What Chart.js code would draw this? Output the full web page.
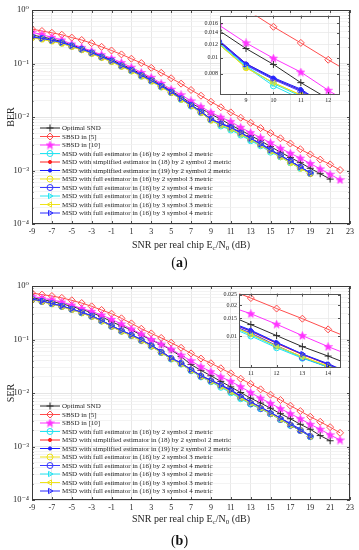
<!DOCTYPE html>
<html>
<head>
<meta charset="utf-8">
<script src="https://cdn.jsdelivr.net/npm/chart.js@4.4.1/dist/chart.umd.min.js"></script>
<style>
    body { margin: 0; background: #fff; width: 359px; height: 550px; position: relative; overflow: hidden; font-family: "Liberation Serif", serif; }
    .box { position: absolute; }
    .cap { position: absolute; left: 0; width: 359px; text-align: center; font-size: 14px; line-height: 14px; color: #111; }
</style>
</head>
<body>
<div class="box" style="left:0;top:0"><canvas id="berChart" width="359" height="258"></canvas></div>
<div class="box" style="left:195px;top:10px"><canvas id="berZoom" width="150" height="97"></canvas></div>
<div class="cap" style="top:256px">(<b>a</b>)</div>
<div class="box" style="left:0;top:276px"><canvas id="serChart" width="359" height="258"></canvas></div>
<div class="box" style="left:210px;top:288px"><canvas id="serZoom" width="136" height="92"></canvas></div>
<div class="cap" style="top:534px">(<b>b</b>)</div>

<script>
// SNR per real chip (dB)
const snr = [-9, -8, -7, -6, -5, -4, -3, -2, -1, 0, 1, 2, 3, 4, 5, 6, 7, 8, 9, 10, 11, 12, 13, 14, 15, 16, 17, 18, 19, 20, 21, 22];
const snrTicks = [-9, -7, -5, -3, -1, 1, 3, 5, 7, 9, 11, 13, 15, 17, 19, 21, 23];
const yMajorTicks = [1e-4, 1e-3, 1e-2, 1e-1, 1];
const yTickLabels = ['10⁻⁴', '10⁻³', '10⁻²', '10⁻¹', '10⁰'];

const legendLabels = [
    'Optimal SND',
    'SBSD in [5]',
    'SBSD in [10]',
    'MSD with full estimator in (16) by 2 symbol 2 metric',
    'MSD with simplified estimator in (18) by 2 symbol 2 metric',
    'MSD with simplified estimator in (19) by 2 symbol 2 metric',
    'MSD with full estimator in (16) by 2 symbol 3 metric',
    'MSD with full estimator in (16) by 2 symbol 4 metric',
    'MSD with full estimator in (16) by 3 symbol 2 metric',
    'MSD with full estimator in (16) by 3 symbol 3 metric',
    'MSD with full estimator in (16) by 3 symbol 4 metric'
];

// (a) BER
const berOptimal = [0.34, 0.315, 0.287, 0.258, 0.222, 0.193, 0.165, 0.139, 0.118, 0.097, 0.079, 0.064, 0.052, 0.040, 0.031, 0.0238, 0.0182, 0.0145, 0.0113, 0.0091, 0.0071, 0.0057, 0.0045, 0.0036, 0.0028, 0.0022, 0.00175, 0.0014, 0.0011, 0.00087, 0.00069];
const berSbsd5 = [0.44, 0.405, 0.375, 0.345, 0.305, 0.275, 0.24, 0.205, 0.175, 0.148, 0.123, 0.102, 0.083, 0.067, 0.053, 0.042, 0.032, 0.025, 0.0193, 0.0152, 0.0122, 0.0097, 0.0078, 0.0062, 0.0050, 0.0040, 0.0032, 0.0025, 0.0020, 0.0016, 0.0013, 0.00102];
const berSbsd10 = [0.383, 0.346, 0.308, 0.275, 0.231, 0.200, 0.171, 0.146, 0.125, 0.104, 0.085, 0.068, 0.055, 0.0425, 0.033, 0.026, 0.020, 0.0156, 0.0122, 0.0099, 0.0082, 0.0064, 0.0051, 0.0041, 0.0033, 0.0026, 0.0021, 0.0017, 0.00135, 0.00107, 0.00085, 0.00067];
const berMsdFull2s2m = [0.312, 0.292, 0.268, 0.243, 0.212, 0.184, 0.156, 0.131, 0.110, 0.089, 0.073, 0.058, 0.047, 0.0365, 0.0285, 0.0213, 0.016, 0.012, 0.0088, 0.0068, 0.0057, 0.0046, 0.0036, 0.0029, 0.0022, 0.0018, 0.0014, 0.0011, 0.00089];
const berMsdSimp18 = [0.315, 0.295, 0.272, 0.247, 0.215, 0.187, 0.159, 0.134, 0.113, 0.092, 0.0756, 0.060, 0.049, 0.038, 0.0297, 0.0223, 0.0168, 0.0126, 0.0092, 0.0075, 0.0064, 0.0051, 0.0040, 0.0031, 0.0024, 0.0019, 0.0015, 0.00116, 0.0009];
const berMsdSimp19 = [0.316, 0.296, 0.273, 0.248, 0.216, 0.188, 0.160, 0.135, 0.114, 0.093, 0.076, 0.061, 0.049, 0.0385, 0.030, 0.0225, 0.017, 0.0127, 0.0092, 0.0076, 0.0065, 0.0051, 0.0040, 0.0032, 0.0025, 0.0019, 0.0015, 0.00117, 0.00091];
const berMsdFull2s3m = [0.305, 0.285, 0.262, 0.238, 0.207, 0.180, 0.153, 0.129, 0.108, 0.088, 0.072, 0.058, 0.047, 0.0365, 0.0285, 0.0214, 0.0162, 0.0121, 0.0087, 0.0071, 0.006, 0.0048, 0.0038, 0.003, 0.0023, 0.0018, 0.0014, 0.0011, 0.00087];
const berMsdFull2s4m = [0.313, 0.293, 0.27, 0.245, 0.213, 0.185, 0.158, 0.133, 0.112, 0.091, 0.075, 0.06, 0.048, 0.0375, 0.0292, 0.022, 0.0166, 0.0124, 0.009, 0.0074, 0.0063, 0.005, 0.0039, 0.0031, 0.0024, 0.0019, 0.0015, 0.00115, 0.00089];
const berMsdFull3s2m = [0.31, 0.29, 0.267, 0.242, 0.211, 0.183, 0.156, 0.131, 0.11, 0.09, 0.073, 0.059, 0.047, 0.037, 0.0288, 0.0216, 0.0163, 0.0122, 0.0089, 0.007, 0.0059, 0.0047, 0.0037, 0.003, 0.0023, 0.0018, 0.0014, 0.0011, 0.00088];
const berMsdFull3s3m = [0.303, 0.283, 0.26, 0.236, 0.206, 0.179, 0.152, 0.128, 0.107, 0.088, 0.072, 0.058, 0.046, 0.036, 0.0283, 0.0212, 0.016, 0.012, 0.0087, 0.0071, 0.006, 0.0048, 0.0038, 0.003, 0.0023, 0.0018, 0.0014, 0.0011, 0.00087];
const berMsdFull3s4m = [0.314, 0.294, 0.271, 0.246, 0.214, 0.186, 0.158, 0.133, 0.112, 0.091, 0.075, 0.06, 0.048, 0.0378, 0.0294, 0.0221, 0.0167, 0.0125, 0.0091, 0.0075, 0.0064, 0.0051, 0.004, 0.0031, 0.0024, 0.0019, 0.0015, 0.00116, 0.0009];

// (b) SER
const serOptimal = [0.60, 0.56, 0.515, 0.465, 0.415, 0.365, 0.318, 0.267, 0.215, 0.179, 0.151, 0.121, 0.098, 0.081, 0.064, 0.048, 0.034, 0.0265, 0.021, 0.0165, 0.013, 0.0102, 0.008, 0.0065, 0.0052, 0.0041, 0.0033, 0.0026, 0.0021, 0.0016, 0.00128];
const serSbsd5 = [0.74, 0.69, 0.65, 0.60, 0.54, 0.48, 0.417, 0.356, 0.304, 0.249, 0.200, 0.159, 0.130, 0.107, 0.087, 0.070, 0.055, 0.044, 0.036, 0.029, 0.0233, 0.0185, 0.0148, 0.0117, 0.0093, 0.0074, 0.0058, 0.0046, 0.0036, 0.0029, 0.0023, 0.0018];
const serSbsd10 = [0.64, 0.59, 0.55, 0.50, 0.44, 0.38, 0.336, 0.287, 0.238, 0.195, 0.157, 0.127, 0.100, 0.082, 0.066, 0.051, 0.040, 0.031, 0.025, 0.020, 0.0165, 0.0131, 0.0102, 0.0080, 0.0064, 0.0051, 0.0041, 0.0033, 0.0026, 0.0021, 0.00165, 0.00132];
const serMsdFull2s2m = [0.56, 0.515, 0.466, 0.416, 0.366, 0.316, 0.271, 0.222, 0.176, 0.143, 0.118, 0.096, 0.075, 0.057, 0.043, 0.0347, 0.026, 0.02, 0.0162, 0.0128, 0.0101, 0.0078, 0.0062, 0.0051, 0.0041, 0.0032, 0.0025, 0.002, 0.00152];
const serMsdSimp18 = [0.567, 0.522, 0.472, 0.422, 0.372, 0.322, 0.277, 0.227, 0.18, 0.147, 0.122, 0.099, 0.078, 0.06, 0.045, 0.0362, 0.0273, 0.021, 0.0172, 0.0141, 0.0112, 0.0086, 0.0067, 0.0054, 0.0043, 0.0034, 0.0026, 0.002, 0.00156];
const serMsdSimp19 = [0.568, 0.523, 0.473, 0.423, 0.373, 0.323, 0.278, 0.228, 0.181, 0.148, 0.123, 0.1, 0.078, 0.06, 0.0452, 0.0365, 0.0275, 0.0212, 0.0174, 0.0143, 0.0115, 0.0088, 0.0068, 0.0055, 0.0043, 0.0034, 0.0027, 0.0021, 0.00158];
const serMsdFull2s3m = [0.555, 0.51, 0.462, 0.412, 0.362, 0.313, 0.268, 0.22, 0.175, 0.142, 0.118, 0.095, 0.075, 0.057, 0.0435, 0.035, 0.0265, 0.0204, 0.0166, 0.0134, 0.0106, 0.0081, 0.0064, 0.0052, 0.0041, 0.0032, 0.0025, 0.002, 0.00153];
const serMsdFull2s4m = [0.563, 0.518, 0.469, 0.419, 0.369, 0.319, 0.274, 0.224, 0.178, 0.145, 0.12, 0.097, 0.076, 0.058, 0.0442, 0.0356, 0.0268, 0.0206, 0.0168, 0.0137, 0.0108, 0.0082, 0.0063, 0.0051, 0.0041, 0.0032, 0.0025, 0.002, 0.00154];
const serMsdFull3s2m = [0.558, 0.513, 0.464, 0.414, 0.364, 0.315, 0.27, 0.221, 0.176, 0.143, 0.119, 0.096, 0.075, 0.057, 0.0437, 0.0352, 0.0265, 0.0204, 0.0165, 0.0132, 0.0104, 0.008, 0.0063, 0.0051, 0.0041, 0.0032, 0.0025, 0.002, 0.00153];
const serMsdFull3s3m = [0.553, 0.508, 0.46, 0.41, 0.36, 0.312, 0.267, 0.219, 0.174, 0.141, 0.117, 0.095, 0.074, 0.057, 0.0433, 0.0348, 0.0264, 0.0203, 0.0165, 0.0133, 0.0105, 0.0081, 0.0064, 0.0052, 0.0041, 0.0032, 0.0025, 0.002, 0.00153];
const serMsdFull3s4m = [0.566, 0.521, 0.471, 0.421, 0.371, 0.321, 0.276, 0.226, 0.18, 0.147, 0.122, 0.099, 0.078, 0.059, 0.0448, 0.0361, 0.0272, 0.0209, 0.0171, 0.014, 0.0113, 0.0087, 0.0068, 0.0054, 0.0043, 0.0034, 0.0026, 0.002, 0.00156];

// zoomed insets
const berZoomX = [9, 10, 11, 12];
const berZoomY = [0.008, 0.01, 0.012, 0.014, 0.016];
const berZoomYLabels = ['0.008', '0.01', '0.012', '0.014', '0.016'];
const serZoomX = [11, 12, 13, 14];
const serZoomY = [0.01, 0.015, 0.02, 0.025];
const serZoomYLabels = ['0.01', '0.015', '0.02', '0.025'];

const berValues = [berOptimal, berSbsd5, berSbsd10, berMsdFull2s2m, berMsdSimp18, berMsdSimp19, berMsdFull2s3m, berMsdFull2s4m, berMsdFull3s2m, berMsdFull3s3m, berMsdFull3s4m];
const serValues = [serOptimal, serSbsd5, serSbsd10, serMsdFull2s2m, serMsdSimp18, serMsdSimp19, serMsdFull2s3m, serMsdFull2s4m, serMsdFull3s2m, serMsdFull3s3m, serMsdFull3s4m];

const lineStyles = [
    { color: '#2b2b2b', point: 'cross', r: 3.5 },
    { color: '#ff4d4d', point: 'rectRot', r: 3.5 },
    { color: '#ff33ff', point: 'star', r: 4 },
    { color: '#22e4f2', point: 'circle', r: 3 },
    { color: '#ff2020', point: 'circle', r: 1.6, fill: true },
    { color: '#1a1aff', point: 'circle', r: 1.6, fill: true },
    { color: '#eee21a', point: 'circle', r: 3 },
    { color: '#3a3aff', point: 'circle', r: 3 },
    { color: '#22e4f2', point: 'triangle', r: 3, rot: 90 },
    { color: '#eee21a', point: 'triangle', r: 3, rot: -90 },
    { color: '#2a2aff', point: 'triangle', r: 3, rot: 90 }
];

const textColor = '#262626';
const serif = '"Liberation Serif", "DejaVu Serif", serif';

function makeStar(color) {
    const c = document.createElement('canvas');
    c.width = 9;
    c.height = 9;
    const g = c.getContext('2d');
    g.beginPath();
    for (let k = 0; k < 10; k++) {
        const r = k % 2 ? 1.8 : 4.3;
        const ang = -Math.PI / 2 + k * Math.PI / 5;
        g.lineTo(4.5 + r * Math.cos(ang), 4.8 + r * Math.sin(ang));
    }
    g.closePath();
    g.fillStyle = color;
    g.fill();
    g.strokeStyle = color;
    g.lineWidth = 0.6;
    g.stroke();
    return c;
}
const starImg = makeStar('#ff33ff');

function buildSets(values) {
    return values.map((vals, i) => {
        const s = lineStyles[i];
        return {
            label: legendLabels[i],
            data: vals.map((v, k) => ({ x: snr[k], y: v })),
            borderColor: s.color,
            borderWidth: 1,
            pointStyle: s.point === 'star' ? starImg : s.point,
            pointRadius: s.r,
            pointRotation: s.rot || 0,
            pointBorderColor: s.color,
            pointBorderWidth: 1,
            pointBackgroundColor: s.fill ? s.color : 'rgba(255,255,255,0)',
            order: values.length - i,
            tension: 0,
            clip: 0
        };
    });
}

function drawXTitle(ctx, cx, baseline) {
    const parts = [['SNR per real chip E', false], ['c', true], ['/N', false], ['0', true], [' (dB)', false]];
    const big = '10px ' + serif;
    const small = '7px ' + serif;
    let w = 0;
    parts.forEach(p => {
        ctx.font = p[1] ? small : big;
        w += ctx.measureText(p[0]).width;
    });
    let x = cx - w / 2;
    ctx.textAlign = 'left';
    ctx.textBaseline = 'alphabetic';
    parts.forEach(p => {
        ctx.font = p[1] ? small : big;
        ctx.fillText(p[0], x, baseline + (p[1] ? 2.5 : 0));
        x += ctx.measureText(p[0]).width;
    });
}

function drawLegend(chart, top) {
    const ctx = chart.ctx;
    const a = chart.chartArea;
    chart.data.datasets.forEach((ds, i) => {
        const y = top + i * 8.5;
        ctx.strokeStyle = ds.borderColor;
        ctx.lineWidth = 1;
        ctx.beginPath();
        ctx.moveTo(a.left + 8, y);
        ctx.lineTo(a.left + 28, y);
        ctx.stroke();
        ctx.fillStyle = ds.pointBackgroundColor;
        Chart.helpers.drawPoint(ctx, {
            pointStyle: ds.pointStyle,
            radius: ds.pointRadius,
            rotation: ds.pointRotation,
            borderWidth: 1
        }, a.left + 18, y);
        ctx.fillStyle = textColor;
        ctx.font = '7px ' + serif;
        ctx.textAlign = 'left';
        ctx.textBaseline = 'middle';
        ctx.fillText(ds.label, a.left + 30, y + 0.5);
    });
}

const framePlugin = {
    id: 'frame',
    beforeDraw(chart, args, o) {
        if (!o.fillArea) return;
        const a = chart.chartArea;
        chart.ctx.save();
        chart.ctx.fillStyle = '#fff';
        chart.ctx.fillRect(a.left, a.top, a.width, a.height);
        chart.ctx.restore();
    },
    afterDatasetsDraw(chart, args, o) {
        const ctx = chart.ctx;
        const a = chart.chartArea;
        const xs = chart.scales.x;
        const ys = chart.scales.y;
        ctx.save();
        ctx.strokeStyle = textColor;
        ctx.lineWidth = 0.8;
        ctx.beginPath();
        xs.ticks.forEach(t => {
            const px = Math.round(xs.getPixelForValue(t.value)) + 0.5;
            ctx.moveTo(px, a.bottom);
            ctx.lineTo(px, a.bottom - 3);
            ctx.moveTo(px, a.top);
            ctx.lineTo(px, a.top + 3);
        });
        ys.ticks.forEach(t => {
            const py = Math.round(ys.getPixelForValue(t.value)) + 0.5;
            const len = t.major ? 3 : 1.5;
            ctx.moveTo(a.left, py);
            ctx.lineTo(a.left + len, py);
            ctx.moveTo(a.right, py);
            ctx.lineTo(a.right - len, py);
        });
        ctx.stroke();
        ctx.lineWidth = 1;
        ctx.strokeStyle = o.fillArea ? '#555' : '#3a3a3a';
        ctx.strokeRect(Math.round(a.left) + 0.5, Math.round(a.top) + 0.5, Math.round(a.width) - 1, Math.round(a.height) - 1);

        if (o.yTitle) {
            ctx.fillStyle = textColor;
            ctx.save();
            ctx.translate(11, (a.top + a.bottom) / 2);
            ctx.rotate(-Math.PI / 2);
            ctx.font = '10px ' + serif;
            ctx.textAlign = 'center';
            ctx.textBaseline = 'middle';
            ctx.fillText(o.yTitle, 0, 0);
            ctx.restore();
            drawXTitle(ctx, (a.left + a.right) / 2, a.bottom + o.xTitleOffset);
        }
        if (o.legendTop) drawLegend(chart, o.legendTop);
        ctx.restore();
    }
};

function mainChart(id, yTitle, values, legendTop, xTitleOffset) {
    new Chart(document.getElementById(id), {
        type: 'line',
        data: { datasets: buildSets(values) },
        options: {
            responsive: false,
            animation: false,
            events: [],
            layout: { padding: { top: 10, right: 9, left: 0, bottom: 0 } },
            plugins: {
                legend: { display: false },
                tooltip: { enabled: false },
                frame: { yTitle: yTitle, legendTop: legendTop, xTitleOffset: xTitleOffset }
            },
            scales: {
                x: {
                    type: 'linear',
                    min: -9,
                    max: 23,
                    afterBuildTicks: axis => { axis.ticks = snrTicks.map(v => ({ value: v })); },
                    afterFit: axis => { axis.height = 34; },
                    grid: { color: '#e2e2e2', lineWidth: 0.8, drawTicks: false },
                    border: { display: false },
                    ticks: { autoSkip: false, maxRotation: 0, padding: 3, color: textColor, font: { family: serif, size: 8 } }
                },
                y: {
                    type: 'logarithmic',
                    min: 1e-4,
                    max: 1,
                    afterBuildTicks: axis => {
                        const list = [];
                        yMajorTicks.forEach((m, i) => {
                            list.push({ value: m, major: true });
                            if (i < yMajorTicks.length - 1) {
                                for (let k = 2; k <= 9; k++) list.push({ value: m * k, major: false });
                            }
                        });
                        axis.ticks = list;
                    },
                    afterFit: axis => { axis.width = 32; },
                    grid: {
                        color: c => (c.tick && c.tick.major ? '#dedede' : '#f0f0f0'),
                        lineWidth: 0.8,
                        drawTicks: false
                    },
                    border: { display: false },
                    ticks: {
                        autoSkip: false,
                        padding: 3,
                        color: textColor,
                        font: { family: serif, size: 8.5 },
                        callback: v => {
                            const i = yMajorTicks.indexOf(v);
                            return i >= 0 ? yTickLabels[i] : '';
                        }
                    }
                }
            }
        },
        plugins: [framePlugin]
    });
}

function zoomChart(id, values, xMin, xMax, xTicks, yMin, yMax, yTicks, yLabels, axisW) {
    new Chart(document.getElementById(id), {
        type: 'line',
        data: { datasets: buildSets(values) },
        options: {
            responsive: false,
            animation: false,
            events: [],
            layout: { padding: { top: 5, right: 4, left: 0, bottom: 0 } },
            plugins: {
                legend: { display: false },
                tooltip: { enabled: false },
                frame: { fillArea: true }
            },
            scales: {
                x: {
                    type: 'linear',
                    min: xMin,
                    max: xMax,
                    afterBuildTicks: axis => { axis.ticks = xTicks.map(v => ({ value: v })); },
                    afterFit: axis => { axis.height = 12; },
                    grid: { color: '#e6e6e6', lineWidth: 0.7, drawTicks: false },
                    border: { display: false },
                    ticks: { autoSkip: false, maxRotation: 0, padding: 2, color: textColor, font: { family: serif, size: 6 } }
                },
                y: {
                    type: 'logarithmic',
                    min: yMin,
                    max: yMax,
                    afterBuildTicks: axis => { axis.ticks = yTicks.map(v => ({ value: v, major: true })); },
                    afterFit: axis => { axis.width = axisW; },
                    grid: { color: '#e6e6e6', lineWidth: 0.7, drawTicks: false },
                    border: { display: false },
                    ticks: {
                        autoSkip: false,
                        padding: 2,
                        color: textColor,
                        font: { family: serif, size: 6 },
                        callback: v => {
                            const i = yTicks.indexOf(v);
                            return i >= 0 ? yLabels[i] : '';
                        }
                    }
                }
            }
        },
        plugins: [framePlugin]
    });
}

mainChart('berChart', 'BER', berValues, 128, 23.5);
zoomChart('berZoom', berValues, 8.05, 12.43, berZoomX, 0.006, 0.0177, berZoomY, berZoomYLabels, 25);
mainChart('serChart', 'SER', serValues, 130, 21.5);
zoomChart('serZoom', serValues, 10.54, 14.5, serZoomX, 0.005, 0.0257, serZoomY, serZoomYLabels, 29);
</script>
</body>
</html>
